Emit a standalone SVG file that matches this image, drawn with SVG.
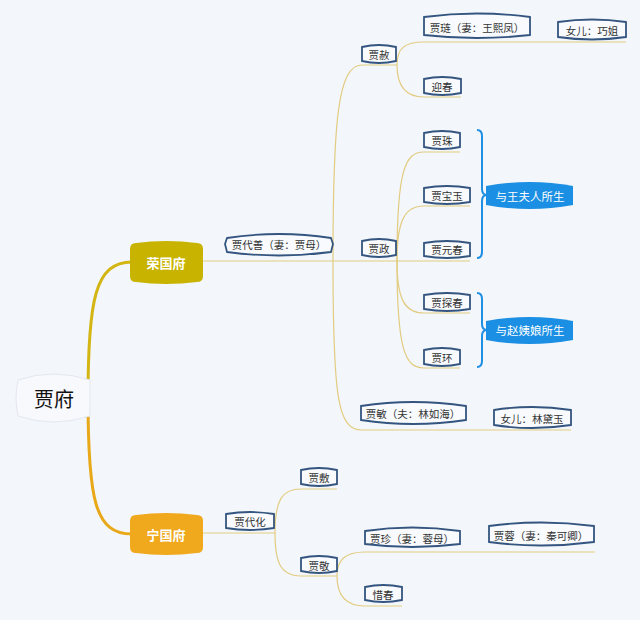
<svg xmlns="http://www.w3.org/2000/svg" width="640" height="620" viewBox="0 0 640 620">
<defs>
<style>
.bg{fill:#f3f6fb}
.box{fill:#f8fafd;stroke:#34557f;stroke-width:1.8}
.t{font-family:"Noto Sans CJK SC","Liberation Sans",sans-serif;font-size:10.5px;fill:#333;text-anchor:middle;dominant-baseline:central}
.w{font-family:"Noto Sans CJK SC","Liberation Sans",sans-serif;font-size:13px;fill:#fff;text-anchor:middle;dominant-baseline:central;font-weight:bold}
.b{font-family:"Noto Sans CJK SC","Liberation Sans",sans-serif;font-size:11.5px;fill:#fff;text-anchor:middle;dominant-baseline:central}
.ln{fill:none;stroke:#e2cc80;stroke-width:1.2}
.br{fill:none;stroke:#1e8fe3;stroke-width:2}
</style>
</defs>
<rect class="bg" x="0" y="0" width="640" height="620"/>
<g id="connectors">
<path d="M88,398 C88,300 95,262 132,262" fill="none" stroke="#d3b614" stroke-width="3"/>
<path d="M88,398 C88,500 95,534 132,534" fill="none" stroke="#e8a818" stroke-width="3"/>
<path class="ln" d="M203,261 L470,261"/>
<path class="ln" d="M333,261 C333,120 338,65 362,65 L397,65"/>
<path class="ln" d="M333,261 C333,400 338,430 362,430 L571,430"/>
<path class="ln" d="M397,65 C397,48 405,42 424,42 L626,42"/>
<path class="ln" d="M397,65 C397,85 405,97 424,97 L461,97"/>
<path class="ln" d="M397,261 C397,170 405,152 424,152 L460,152"/>
<path class="ln" d="M397,261 C397,220 405,206 424,206 L470,206"/>
<path class="ln" d="M397,261 C397,300 405,313 424,313 L470,313"/>
<path class="ln" d="M397,261 C397,350 405,368 424,368 L460,368"/>
<path class="ln" d="M203,533 L275,533"/>
<path class="ln" d="M275,533 C275,500 282,489 301,489 L337,489"/>
<path class="ln" d="M275,533 C275,565 282,576 301,576 L337,576"/>
<path class="ln" d="M337,576 C337,560 345,552 365,552 L595,552"/>
<path class="ln" d="M337,576 C337,595 345,606 365,606 L402,606"/>
<path class="br" d="M477,130 Q482,130 482,136 L482,189 Q482,195 487,195 Q482,195 482,201 L482,252 Q482,258 477,258"/>
<path class="br" d="M477,293 Q482,293 482,299 L482,324 Q482,330 487,330 Q482,330 482,336 L482,361 Q482,367 477,367"/>
</g>
<g id="root">
<path d="M18,380 Q53,368 90,380 L90,416 Q53,428 18,416 Q14,398 18,380 Z" fill="#f8f9fd" stroke="#e3e7f0" stroke-width="1"/>
<text x="54" y="398" font-family="Noto Sans CJK SC,sans-serif" font-size="20" fill="#111" text-anchor="middle" dominant-baseline="central">贾府</text>
</g>
<g id="rongguofu">
<path d="M130,249 Q130,243 136,243 Q166,239 197,243 Q203,243 203,249 L203,276 Q203,282 197,282 Q166,286 136,282 Q130,282 130,276 Z" fill="#c8b400"/>
<text class="w" x="166" y="262">荣国府</text>
</g>
<g id="ningguofu">
<path d="M130,521 Q130,515 136,515 Q166,511 197,515 Q203,515 203,521 L203,547 Q203,553 197,553 Q166,557 136,553 Q130,553 130,547 Z" fill="#f0a81c"/>
<text class="w" x="166" y="534">宁国府</text>
</g>
<g id="jiadaishan">
<path class="box" d="M227,238 Q279,230 331,238 L333,244 L331,252 Q279,259 227,252 L225,244 Z"/>
<text class="t" x="279" y="244">贾代善（妻：贾母）</text>
</g>
<g id="jiashe">
<path class="box" d="M362,47 Q379,43 396,47 L396,61 Q379,65 362,61 Z"/>
<text class="t" x="379" y="54">贾赦</text>
</g>
<g id="jiazheng">
<path class="box" d="M362,241 Q379,237 396,241 L396,255 Q379,259 362,255 Z"/>
<text class="t" x="379" y="248">贾政</text>
</g>
<g id="jiamin">
<path class="box" d="M361,406 Q413,398 466,406 L466,420 Q413,428 361,420 Z"/>
<text class="t" x="413" y="413">贾敏（夫：林如海）</text>
</g>
<g id="linyu">
<path class="box" d="M494,410 Q532,404 571,410 L571,425 Q532,431 494,425 Z"/>
<text class="t" x="532" y="418">女儿：林黛玉</text>
</g>
<g id="jialian">
<path class="box" d="M424,17 Q477,10 530,17 L530,35 Q477,41 424,35 Z"/>
<text class="t" x="477" y="27">贾琏（妻：王熙凤）</text>
</g>
<g id="qiaojie">
<path class="box" d="M558,22 Q592,17 626,22 L626,37 Q592,42 558,37 Z"/>
<text class="t" x="592" y="30">女儿：巧姐</text>
</g>
<g id="yingchun">
<path class="box" d="M424,79 Q442,75 461,79 L461,93 Q442,97 424,93 Z"/>
<text class="t" x="442" y="86">迎春</text>
</g>
<g id="jiazhu">
<path class="box" d="M424,133 Q442,129 460,133 L460,147 Q442,151 424,147 Z"/>
<text class="t" x="442" y="140">贾珠</text>
</g>
<g id="baoyu">
<path class="box" d="M424,188 Q447,184 470,188 L470,202 Q447,206 424,202 Z"/>
<text class="t" x="447" y="195">贾宝玉</text>
</g>
<g id="yuanchun">
<path class="box" d="M424,243 Q447,239 470,243 L470,256 Q447,260 424,256 Z"/>
<text class="t" x="447" y="249">贾元春</text>
</g>
<g id="tanchun">
<path class="box" d="M424,295 Q447,291 470,295 L470,309 Q447,313 424,309 Z"/>
<text class="t" x="447" y="302">贾探春</text>
</g>
<g id="jiahuan">
<path class="box" d="M424,350 Q442,346 460,350 L460,364 Q442,368 424,364 Z"/>
<text class="t" x="442" y="357">贾环</text>
</g>
<g id="wangfuren">
<path d="M486,186 Q530,178 573,186 L573,205 Q530,213 486,205 Z" fill="#1a8fe3"/>
<text class="b" x="530" y="196">与王夫人所生</text>
</g>
<g id="zhaoyiniang">
<path d="M486,321 Q530,313 573,321 L573,340 Q530,348 486,340 Z" fill="#1a8fe3"/>
<text class="b" x="530" y="330">与赵姨娘所生</text>
</g>
<g id="jiadaihua">
<path class="box" d="M226,514 Q250,510 274,514 L274,528 Q250,532 226,528 Z"/>
<text class="t" x="250" y="521">贾代化</text>
</g>
<g id="jiafu2">
<path class="box" d="M301,470 Q319,466 337,470 L337,484 Q319,488 301,484 Z"/>
<text class="t" x="319" y="477">贾敷</text>
</g>
<g id="jiajing">
<path class="box" d="M301,558 Q319,554 337,558 L337,571 Q319,575 301,571 Z"/>
<text class="t" x="319" y="565">贾敬</text>
</g>
<g id="jiazhen">
<path class="box" d="M365,531 Q412,524 460,531 L460,544 Q412,550 365,544 Z"/>
<text class="t" x="412" y="538">贾珍（妻：蓉母）</text>
</g>
<g id="jiarong">
<path class="box" d="M489,526 Q541,519 594,526 L594,542 Q541,549 489,542 Z"/>
<text class="t" x="541" y="535">贾蓉（妻：秦可卿）</text>
</g>
<g id="xichun">
<path class="box" d="M365,587 Q383,583 402,587 L402,600 Q383,604 365,600 Z"/>
<text class="t" x="383" y="594">惜春</text>
</g>
</svg>
